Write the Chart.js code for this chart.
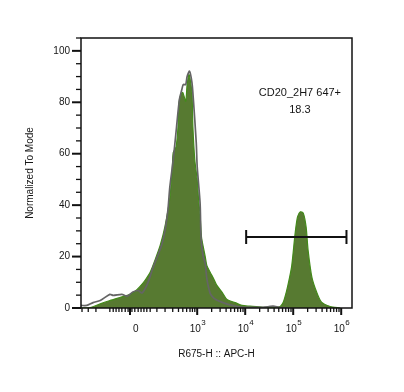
<!DOCTYPE html>
<html>
<head>
<meta charset="utf-8">
<script src="https://cdn.jsdelivr.net/npm/chart.js@4/dist/chart.umd.min.js"></script>
<style>
  html, body { margin: 0; padding: 0; background: #fff; }
  #wrap { width: 404px; height: 392px; }
</style>
</head>
<body>
<div id="wrap"><canvas id="histo" width="404" height="392"></canvas></div>
<script>
// x values are in display units of the biexponential axis (3 = 10^3, 4 = 10^4 ...)
const stainedX = [0.58, 0.77, 0.98, 1.18, 1.39, 1.60, 1.70, 1.81, 1.91, 2.02, 2.12, 2.23, 2.33, 2.43, 2.48, 2.50, 2.56, 2.60, 2.62, 2.66,
  2.70, 2.76, 2.79, 2.83, 2.89, 2.91, 2.95, 3.00, 3.03, 3.06, 3.09, 3.14, 3.17, 3.20, 3.27, 3.34, 3.41, 3.52, 3.62, 3.79,
  3.93, 4.10, 4.37, 4.64, 4.73, 4.79, 4.86, 4.92, 4.97, 5.04, 5.09, 5.15, 5.21, 5.27, 5.31, 5.39, 5.49, 5.59, 5.77, 5.98];
const stainedY = [0, 0.2, 1.6, 2.9, 4.1, 5.3, 6.4, 8.4, 10.7, 13.9, 18.6, 24.4, 31.8, 42.8, 53.7, 60.4, 62.7, 70.5, 79.9, 83.0,
  83.8, 80.4, 86.9, 90.8, 83.8, 70.5, 57.6, 49.8, 42.0, 36.1, 27.5, 22.5, 19.7, 16.6, 13.9, 11.5, 8.8, 6.1, 3.3, 2.1,
  1.0, 0.7, 0.3, 0.3, 0.6, 2.1, 6.5, 11.5, 16.5, 29.0, 35.4, 37.4, 36.9, 31.4, 22.5, 11.9, 6.1, 2.3, 0.6, 0];

const controlX = [0.58, 0.70, 0.83, 0.98, 1.18, 1.25, 1.43, 1.54, 1.66, 1.77, 1.85, 1.95, 2.02, 2.08, 2.18, 2.27, 2.33, 2.39, 2.43, 2.50,
  2.57, 2.63, 2.68, 2.71, 2.76, 2.79, 2.84, 2.89, 2.92, 2.98, 3.00, 3.06, 3.08, 3.12, 3.17, 3.20, 3.27, 3.35, 3.45, 3.58,
  3.73, 3.93, 4.37, 4.52, 4.58, 4.73, 4.89];
const controlY = [1.0, 1.0, 2.1, 2.9, 5.3, 4.9, 5.3, 4.6, 6.2, 6.8, 5.8, 8.8, 12.3, 15.8, 20.5, 25.2, 30.3, 38.1, 47.1, 57.6,
  70.5, 81.1, 85.0, 86.9, 86.9, 90.0, 92.1, 87.7, 81.1, 64.3, 54.9, 40.8, 27.5, 20.5, 17.0, 11.5, 5.7, 3.7, 2.7, 1.8,
  1.0, 0.3, 0.3, 0.6, 0.7, 0.2, 0];

const xTickValues = [1.76, 3, 4, 5, 6];
const xTickLabels = ['0', '10', '10', '10', '10'];
const xTickExponents = ['', '3', '4', '5', '6'];
const yTickValues = [0, 20, 40, 60, 80, 100];
const xMajorMarks = [1.60, 3, 4, 5, 6];
// small marks around zero (linear part of the axis)
const xNearZeroMarks = [0.60, 0.73, 0.89, 1.18, 1.25, 1.31, 1.37, 1.43, 1.50, 1.56, 1.64, 1.70, 1.77, 1.83, 1.89, 1.95, 2.02,
  2.16, 2.33, 2.49, 2.61, 2.70, 2.78, 2.85, 2.90, 2.95];

const gateName = 'CD20_2H7 647+';
const gatePercent = '18.3';
const gateFrom = 4.02;
const gateTo = 6.11;
const gateLevel = 27.6;

const FONT = '"Liberation Sans", Arial, sans-serif';
Chart.defaults.font.family = FONT;
Chart.defaults.color = '#151515';

const toPoints = (xs, ys) => xs.map((x, i) => ({ x: x, y: ys[i] }));

// frame, tick marks, exponents and the gate
const decor = {
  id: 'decor',
  afterDatasetsDraw(chart) {
    const { ctx, chartArea: a, scales: { x, y } } = chart;
    ctx.save();
    ctx.strokeStyle = '#111';

    ctx.lineWidth = 1.5;
    ctx.strokeRect(a.left, a.top, a.right - a.left, a.bottom - a.top);

    // y marks every 5, long ones at the labels
    for (let v = 0; v <= 105; v += 5) {
      const py = y.getPixelForValue(v);
      const major = yTickValues.includes(v);
      ctx.lineWidth = major ? 2 : 1.3;
      ctx.beginPath();
      ctx.moveTo(a.left - (major ? 9 : 5), py);
      ctx.lineTo(a.left, py);
      ctx.stroke();
    }

    // x marks
    const minor = xNearZeroMarks.slice();
    [3, 4, 5].forEach(d => {
      for (let k = 2; k <= 9; k++) minor.push(d + Math.log10(k));
    });
    ctx.lineWidth = 1.3;
    minor.forEach(v => {
      const px = x.getPixelForValue(v);
      ctx.beginPath();
      ctx.moveTo(px, a.bottom);
      ctx.lineTo(px, a.bottom + 4);
      ctx.stroke();
    });
    ctx.lineWidth = 2;
    xMajorMarks.forEach(v => {
      const px = x.getPixelForValue(v);
      ctx.beginPath();
      ctx.moveTo(px, a.bottom);
      ctx.lineTo(px, a.bottom + 7);
      ctx.stroke();
    });

    // exponents of the decade labels
    ctx.fillStyle = '#151515';
    ctx.font = '8px ' + FONT;
    ctx.textAlign = 'left';
    ctx.textBaseline = 'alphabetic';
    xTickValues.forEach((v, i) => {
      if (!xTickExponents[i]) return;
      const px = x.getPixelForValue(v) - 2;
      ctx.fillText(xTickExponents[i], px + 6, a.bottom + 17);
    });

    // gate bar
    const gx1 = x.getPixelForValue(gateFrom);
    const gx2 = x.getPixelForValue(gateTo);
    const gy = y.getPixelForValue(gateLevel);
    ctx.lineWidth = 2;
    ctx.beginPath();
    ctx.moveTo(gx1, gy); ctx.lineTo(gx2, gy);
    ctx.moveTo(gx1, gy - 7); ctx.lineTo(gx1, gy + 7);
    ctx.moveTo(gx2, gy - 7); ctx.lineTo(gx2, gy + 7);
    ctx.stroke();

    // gate text
    ctx.font = '11px ' + FONT;
    ctx.textAlign = 'center';
    ctx.textBaseline = 'middle';
    const tx = x.getPixelForValue(5.14);
    ctx.fillText(gateName, tx, y.getPixelForValue(83.6));
    ctx.fillText(gatePercent, tx, y.getPixelForValue(77.0));
    ctx.restore();
  }
};

const histo = new Chart(document.getElementById('histo'), {
  type: 'line',
  data: {
    datasets: [
      {
        label: 'control',
        data: toPoints(controlX, controlY),
        borderColor: '#656565',
        borderWidth: 1.7,
        pointRadius: 0,
        fill: false,
        tension: 0.25,
      },
      {
        label: 'CD20_2H7 647',
        data: toPoints(stainedX, stainedY),
        borderColor: '#438a1a',
        backgroundColor: '#577a31',
        borderWidth: 1.2,
        pointRadius: 0,
        fill: 'origin',
        tension: 0.25,
      }
    ],
  },
  options: {
    responsive: false,
    animation: false,
    layout: { padding: { top: 38, right: 52, left: 0, bottom: 0 } },
    plugins: {
      legend: { display: false },
      tooltip: { enabled: false },
    },
    scales: {
      x: {
        type: 'linear',
        min: 0.579,
        max: 6.225,
        border: { display: false },
        grid: { display: false, drawTicks: false },
        afterBuildTicks: (scale) => { scale.ticks = xTickValues.map(v => ({ value: v })); },
        afterFit: (scale) => { scale.height = 84; },
        ticks: {
          autoSkip: false,
          maxRotation: 0,
          padding: 15,
          labelOffset: -2,
          font: { size: 10 },
          callback: (value, i) => xTickLabels[i],
        },
        title: {
          display: true,
          text: 'R675-H :: APC-H',
          font: { size: 10 },
          padding: { bottom: 32 },
        },
      },
      y: {
        min: 0,
        max: 105,
        border: { display: false },
        grid: { display: false, drawTicks: false },
        afterBuildTicks: (scale) => { scale.ticks = yTickValues.map(v => ({ value: v })); },
        afterFit: (scale) => { scale.width = 81; },
        ticks: {
          padding: 11,
          font: { size: 10 },
        },
        title: {
          display: true,
          text: 'Normalized To Mode',
          font: { size: 10 },
          padding: { top: 24 },
        },
      },
    },
  },
  plugins: [decor],
});
</script>
</body>
</html>
